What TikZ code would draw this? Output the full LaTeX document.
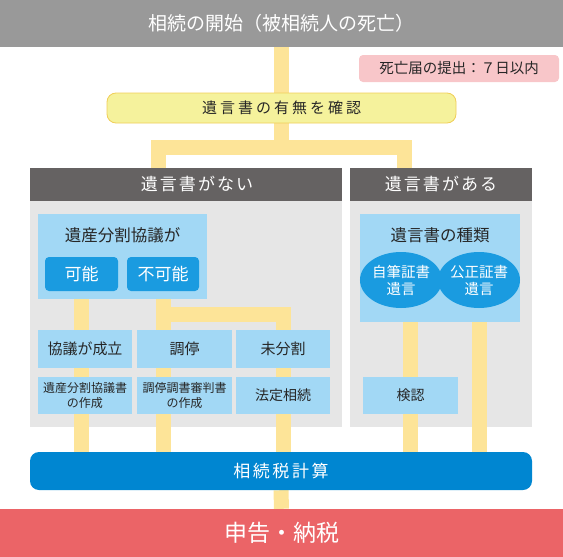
\documentclass[tikz,border=0pt]{standalone}
\usepackage{fontspec}
\setmainfont{Noto Sans CJK JP}
\usetikzlibrary{positioning,shapes.geometric}

\definecolor{startgray}{HTML}{999999}
\definecolor{headgray}{HTML}{656262}
\definecolor{panelgray}{HTML}{E6E6E6}
\definecolor{linkyellow}{HTML}{FDE498}
\definecolor{checkfill}{HTML}{F5F29C}
\definecolor{checkline}{HTML}{F0CE58}
\definecolor{noticepink}{HTML}{F8C6C9}
\definecolor{lightblue}{HTML}{A2D8F5}
\definecolor{midblue}{HTML}{1A9BE0}
\definecolor{taxblue}{HTML}{0086D1}
\definecolor{filingred}{HTML}{EB6467}

\pgfdeclarelayer{panels}
\pgfdeclarelayer{links}
\pgfsetlayers{panels,links,main}

\newcommand{\fsz}[2]{\fontsize{#1}{#2}\selectfont}

\tikzset{
  bar/.style={fill=#1, inner sep=0pt, minimum width=563pt, text=white},
  head/.style={fill=headgray, text=white, inner sep=0pt, minimum height=33pt,
    font=\fsz{17}{20}\addfontfeatures{LetterSpace=12}},
  panel/.style={fill=panelgray, inner sep=0pt, minimum height=226pt},
  card/.style={fill=lightblue, inner sep=0pt, text=black!85, align=center},
  button/.style={fill=midblue, rounded corners=4pt, text=white, inner sep=0pt,
    minimum width=73pt, minimum height=34pt, font=\fsz{17}{20}},
  oval/.style={ellipse, fill=midblue, text=white, inner sep=0pt, minimum width=74pt,
    minimum height=56pt, align=center, font=\fsz{14.5}{17}},
  link/.style={draw=linkyellow, line width=15pt},
}

\begin{document}
\begin{tikzpicture}[x=1pt,y=-1pt]

  \useasboundingbox (0,0) rectangle (563,557);

  \node[bar=startgray, minimum height=47pt, font=\fsz{19}{22}] (start) at (281.5,23.5) {相続の開始（被相続人の死亡）};
  \node[fill=noticepink, rounded corners=4pt, minimum width=200pt, minimum height=27pt,
    inner sep=0pt, text=black!85, font=\fsz{14.5}{17}] (notice) at (459,68.5) {死亡届の提出：７日以内};
  \node[fill=checkfill, draw=checkline, line width=0.8pt, rounded corners=9pt, minimum width=349pt,
    minimum height=30pt, inner sep=0pt, text=black!85,
    font=\fsz{15}{18}\addfontfeatures{LetterSpace=20}] (check) at (281.5,108) {遺言書の有無を確認};

  \node[head, minimum width=312pt] (nohead) at (186,184.5) {\hspace*{22pt}遺言書がない};
  \node[head, minimum width=182pt] (yeshead) at (441,184.5) {遺言書がある};

  \begin{pgfonlayer}{panels}
    \node[panel, minimum width=312pt] (nopanel) at (186,314) {};
    \node[panel, minimum width=182pt] (yespanel) at (441,314) {};
  \end{pgfonlayer}

  % no will
  \node[card, minimum width=169pt, minimum height=85pt] (split) at (122.5,256.5) {};
  \node[text=black!85, font=\fsz{16.5}{20}] (splittitle) at (122.5,235) {遺産分割協議が};
  \node[button] (able) at (81.5,274) {可能};
  \node[button, minimum width=72pt] (unable) at (163,274) {不可能};

  \node[card, minimum width=94pt, minimum height=38pt, font=\fsz{15}{18}] (agreed) at (85,349) {協議が成立};
  \node[card, minimum width=95pt, minimum height=38pt, font=\fsz{15}{18}] (mediation) at (184.5,349) {調停};
  \node[card, minimum width=94pt, minimum height=38pt, font=\fsz{15}{18}] (undivided) at (283,349) {未分割};

  \node[card, minimum width=94pt, minimum height=37pt, font=\fsz{12}{15}] (agreedoc) at (85,395.5) {遺産分割協議書\\の作成};
  \node[card, minimum width=95pt, minimum height=37pt, font=\fsz{12}{15}] (mediationdoc) at (184.5,395.5) {調停調書審判書\\の作成};
  \node[card, minimum width=94pt, minimum height=37pt, font=\fsz{14}{17}] (statutory) at (283,395.5) {法定相続};

  % will
  \node[card, minimum width=160pt, minimum height=108pt] (kinds) at (440,268) {};
  \node[text=black!85, font=\fsz{16.5}{20}] (kindstitle) at (440,235) {遺言書の種類};
  \node[oval] (holo) at (401,280) {自筆証書\\遺言};
  \node[oval] (notarial) at (479,280) {公正証書\\遺言};
  \node[card, minimum width=95pt, minimum height=37pt, font=\fsz{14}{17}] (probate) at (410.5,395.5) {検認};

  \node[fill=taxblue, rounded corners=9pt, minimum width=502pt, minimum height=38pt, inner sep=0pt,
    text=white, font=\fsz{17}{20}\addfontfeatures{LetterSpace=15}] (taxcalc) at (281,471) {相続税計算};
  \node[bar=filingred, minimum height=48pt, font=\fsz{23}{26}] (filing) at (281.5,533) {申告・納税};

  \begin{pgfonlayer}{links}
    \coordinate (fork) at (281.5,147.5);
    \coordinate (forkl) at (158.5,147.5);
    \coordinate (forkr) at (404.5,147.5);
    \coordinate (mfork) at (163,314.5);
    \draw[link] (start.south) -- (check.north);
    \draw[link] (check.south) -- (fork);
    \draw[link] (forkl |- nohead.north) -- (forkl) -- (forkr) -- (forkr |- yeshead.north);
    \draw[link] (able |- split.south) -- (able |- taxcalc.north);
    \draw[link] (unable |- split.south) -- (unable |- taxcalc.north);
    \draw[link] (mfork) -| (undivided |- taxcalc.north);
    \draw[link] (probate |- kinds.south) -- (probate |- taxcalc.north);
    \draw[link] (notarial |- kinds.south) -- (notarial |- taxcalc.north);
    \draw[link] (taxcalc.south) -- (filing.north);
  \end{pgfonlayer}

\end{tikzpicture}
\end{document}
